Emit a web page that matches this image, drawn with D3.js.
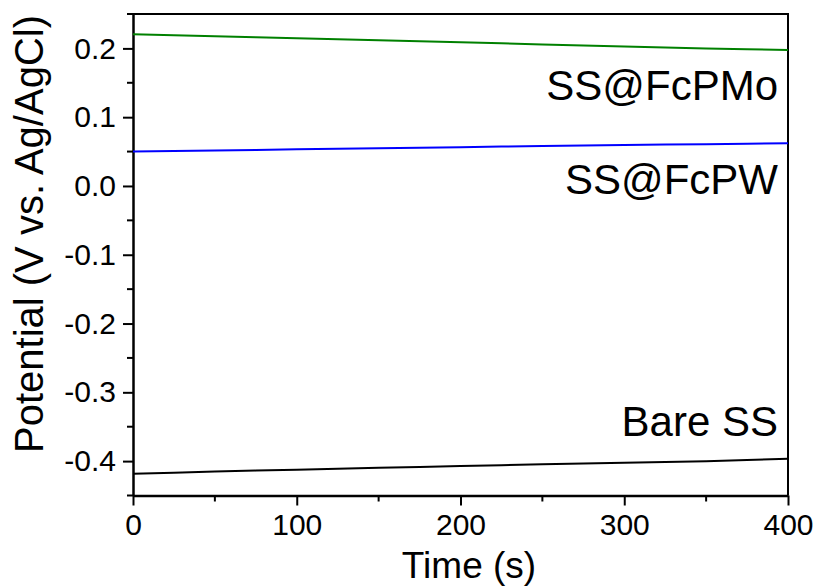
<!DOCTYPE html>
<html>
<head>
<meta charset="utf-8">
<script src="https://cdn.jsdelivr.net/npm/d3@7"></script>
<style>
  html, body { margin: 0; padding: 0; background: #fff; }
  svg { display: block; font-family: "Liberation Sans", Arial, sans-serif; }
</style>
</head>
<body>
<svg id="chart" width="821" height="588"></svg>
<script>
// Open-circuit potential vs. time for three electrodes
const timeS = [0, 25, 50, 75, 100, 125, 150, 175, 200, 225, 250, 275, 300, 325, 350, 375, 400];
const fcPMo = [0.2205, 0.2192, 0.2178, 0.2163, 0.2148, 0.2133, 0.2118, 0.2103, 0.2088, 0.2073, 0.2058, 0.2043, 0.2028, 0.2013, 0.2000, 0.1988, 0.1977];
const fcPW  = [0.0500, 0.0508, 0.0516, 0.0524, 0.0532, 0.0540, 0.0548, 0.0556, 0.0564, 0.0572, 0.0580, 0.0587, 0.0594, 0.0601, 0.0608, 0.0614, 0.0620];
const bare  = [-0.4185, -0.4168, -0.4152, -0.4138, -0.4124, -0.4110, -0.4097, -0.4084, -0.4071, -0.4059, -0.4047, -0.4035, -0.4023, -0.4012, -0.4001, -0.3983, -0.3965];

const seriesNames  = ["SS@FcPMo", "SS@FcPW", "Bare SS"];
const seriesColors = ["#008000", "#0000ff", "#000000"];

const xTickValues = [0, 100, 200, 300, 400];
const xTickLabels = ["0", "100", "200", "300", "400"];
const xMinorTicks = [50, 150, 250, 350];
const yTickValues = [0.2, 0.1, 0.0, -0.1, -0.2, -0.3, -0.4];
const yTickLabels = ["0.2", "0.1", "0.0", "-0.1", "-0.2", "-0.3", "-0.4"];
const yMinorTicks = [0.25, 0.15, 0.05, -0.05, -0.15, -0.25, -0.35, -0.45];

const svg = d3.select("#chart");
const plotLeft = 133, plotRight = 788, plotTop = 14, plotBottom = 495.5;

const x = d3.scaleLinear().domain([0, 400]).range([plotLeft, plotRight]);
const y = d3.scaleLinear().domain([-0.45, 0.25]).range([plotBottom, plotTop]);

// frame (top and right)
svg.append("path")
  .attr("d", `M${plotLeft},${plotTop}H${plotRight}V${plotBottom}`)
  .attr("fill", "none").attr("stroke", "#000").attr("stroke-width", 2);

// bottom axis
const xAxis = svg.append("g").attr("transform", `translate(0,${plotBottom})`);
xAxis.call(d3.axisBottom(x).tickValues(xTickValues)
  .tickFormat((d, i) => xTickLabels[i]).tickSize(10).tickPadding(8).tickSizeOuter(0));
xAxis.append("g").selectAll("line").data(xMinorTicks).join("line")
  .attr("x1", d => x(d)).attr("x2", d => x(d)).attr("y1", 0).attr("y2", 6)
  .attr("stroke", "#000").attr("stroke-width", 2);

// left axis
const yAxis = svg.append("g").attr("transform", `translate(${plotLeft},0)`);
yAxis.call(d3.axisLeft(y).tickValues(yTickValues)
  .tickFormat((d, i) => yTickLabels[i]).tickSize(10).tickPadding(7).tickSizeOuter(0));
yAxis.append("g").selectAll("line").data(yMinorTicks).join("line")
  .attr("y1", d => y(d)).attr("y2", d => y(d)).attr("x1", 0).attr("x2", -6)
  .attr("stroke", "#000").attr("stroke-width", 2);

[xAxis, yAxis].forEach(a => {
  a.select(".domain").attr("stroke-width", 2.5);
  a.selectAll(".tick line").attr("stroke-width", 2);
  a.selectAll(".tick text").attr("font-size", 30).attr("font-family", "Liberation Sans, Arial, sans-serif").attr("fill", "#000");
});

// data lines
const line = d3.line().x((d, i) => x(timeS[i])).y(d => y(d));
[fcPMo, fcPW, bare].forEach((vals, k) => {
  svg.append("path").datum(vals)
    .attr("d", line)
    .attr("fill", "none")
    .attr("stroke", seriesColors[k])
    .attr("stroke-width", 2);
});

// curve labels
const labelBaselines = [99.5, 194, 436];
seriesNames.forEach((name, k) => {
  svg.append("text")
    .attr("x", 778).attr("y", labelBaselines[k])
    .attr("text-anchor", "end")
    .attr("font-size", 42)
    .attr("fill", "#000")
    .text(name);
});

// axis titles
svg.append("text")
  .attr("x", 469).attr("y", 578)
  .attr("text-anchor", "middle")
  .attr("font-size", 37)
  .text("Time (s)");

svg.append("text")
  .attr("transform", "translate(43,234) rotate(-90)")
  .attr("text-anchor", "middle")
  .attr("font-size", 40)
  .text("Potential (V vs. Ag/AgCl)");
</script>
</body>
</html>
